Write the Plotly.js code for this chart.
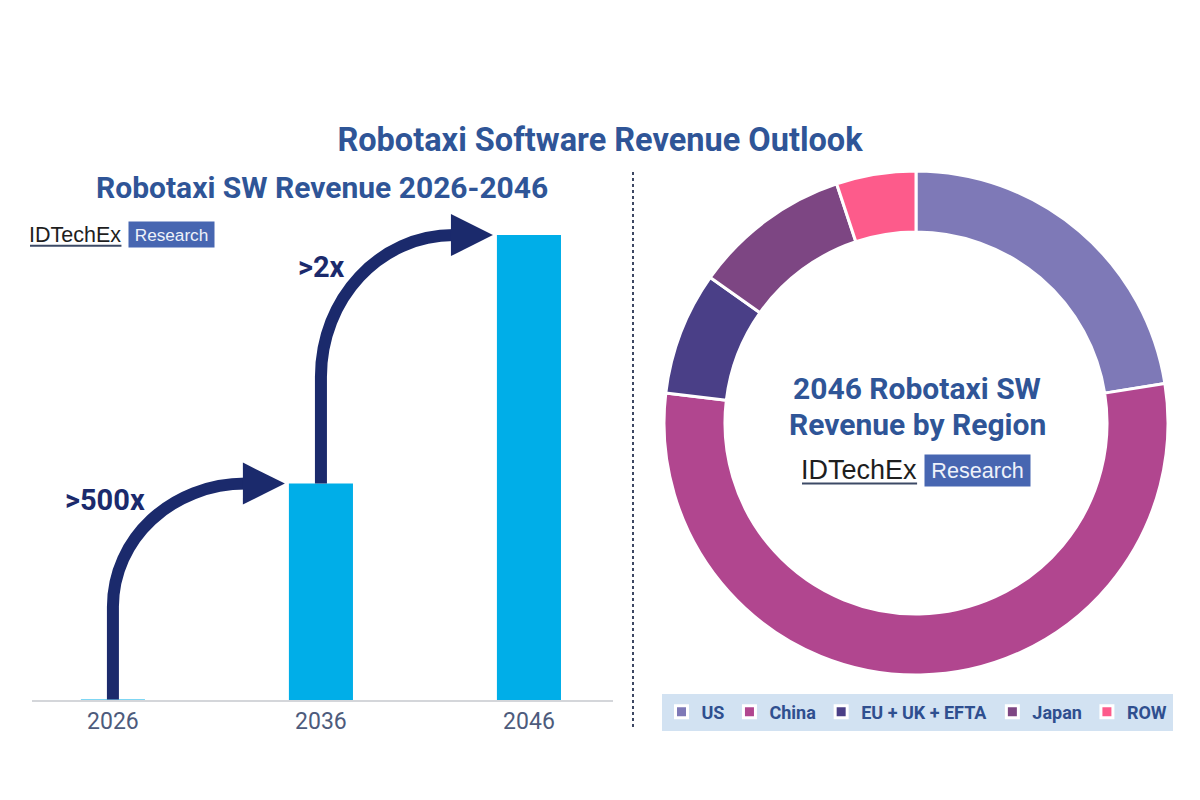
<!DOCTYPE html>
<html>
<head>
<meta charset="utf-8">
<script src="https://cdn.plot.ly/plotly-3.0.1.min.js"></script>
<style>
  html, body { margin: 0; padding: 0; background: #ffffff; }
  #chart { width: 1200px; height: 800px; }
</style>
</head>
<body>
<div id="chart"></div>
<script>
// Robotaxi software revenue (relative scale) by forecast year
const years = ['2026', '2036', '2046'];
const swRevenue = [0.05, 27, 58];
const growthLabels = ['>500x', '>2x'];

// 2046 revenue split by region (%)
const regions = ['US', 'China', 'EU + UK + EFTA', 'Japan', 'ROW'];
const regionShare = [22.5, 54.4, 7.9, 10.1, 5.1];
const regionColors = ['#7e79b7', '#b1468f', '#4a3f87', '#7d4683', '#fd5b8b'];

const W = 1200, H = 800;
const NAVY = '#1b2a6c';
const TITLE_BLUE = '#2f5597';

// bar panel geometry
const xDom = [32 / W, 613 / W];
const xRange = [-0.389, 2.404];
const yDom = [100 / H, 629 / H];
const yRange = [0, 66];
const barWidth = 0.308;

// axis helpers (category index / value -> pixel -> paper)
const pxPerCat = (xDom[1] - xDom[0]) * W / (xRange[1] - xRange[0]);
const xPix = i => xDom[0] * W + (i - xRange[0]) * pxPerCat;
const yPix = v => H - yDom[0] * H - (v - yRange[0]) / (yRange[1] - yRange[0]) * (yDom[1] - yDom[0]) * H;
const px = x => (x / W).toFixed(5);
const py = y => (1 - y / H).toFixed(5);
const pt = (x, y) => px(x) + ',' + py(y);

// curved growth arrows from one bar's top to the next bar's top-left corner
const shapes = [];
const annotations = [];
const halfBarPx = barWidth / 2 * pxPerCat;
const labelOffsets = [[-8, 16], [1, 32]];
for (let i = 0; i < swRevenue.length - 1; i++) {
  const sx = xPix(i), sy = yPix(swRevenue[i]);
  const ty = yPix(swRevenue[i + 1]);
  const tipX = xPix(i + 1) - halfBarPx - 4;
  const headLen = 42, headHalf = 21;
  const baseX = tipX - headLen;
  const ry = 0.57 * (sy - ty);
  const rx = baseX - sx;
  const k = 0.55;
  const body = 'M' + pt(sx, sy) +
    ' L' + pt(sx, ty + ry) +
    ' C' + pt(sx, ty + ry - k * ry) + ' ' + pt(baseX - k * rx, ty) + ' ' + pt(baseX + 3, ty);
  shapes.push({
    type: 'path', xref: 'paper', yref: 'paper', path: body,
    line: { color: NAVY, width: 12 }, fillcolor: 'rgba(0,0,0,0)'
  });
  shapes.push({
    type: 'path', xref: 'paper', yref: 'paper',
    path: 'M' + pt(baseX, ty - headHalf) + ' L' + pt(tipX, ty) + ' L' + pt(baseX, ty + headHalf) + ' Z',
    line: { width: 0 }, fillcolor: NAVY
  });
  annotations.push({
    xref: 'paper', yref: 'paper',
    x: (sx + labelOffsets[i][0]) / W, y: 1 - (ty + labelOffsets[i][1]) / H,
    xanchor: 'center', yanchor: 'middle', showarrow: false,
    text: growthLabels[i],
    font: { family: 'Roboto', size: 29, weight: 700, color: NAVY }
  });
}

// dotted divider between the panels
shapes.push({
  type: 'line', xref: 'paper', yref: 'paper',
  x0: 633 / W, x1: 633 / W, y0: 1 - 172 / H, y1: 1 - 730 / H,
  line: { color: '#3d4763', width: 2, dash: 'dot' }
});

// IDTechEx Research logo (two sizes)
function addLogo(x, yMid, size, resW, resH) {
  const wordW = size * 4.3;
  annotations.push({
    xref: 'paper', yref: 'paper', x: (x - 2) / W, y: 1 - yMid / H,
    xanchor: 'left', yanchor: 'middle', showarrow: false,
    text: 'IDTechEx',
    font: { family: 'Liberation Sans', size: size, color: '#1e1e1e' }
  });
  shapes.push({
    type: 'line', xref: 'paper', yref: 'paper',
    x0: (x + 1) / W, x1: (x + wordW) / W,
    y0: 1 - (yMid + size * 0.5) / H, y1: 1 - (yMid + size * 0.5) / H,
    line: { color: '#3c4a66', width: 2 }
  });
  const bx = x + wordW + 8;
  annotations.push({
    xref: 'paper', yref: 'paper', x: (bx + resW / 2) / W, y: 1 - yMid / H,
    xanchor: 'center', yanchor: 'middle', showarrow: false,
    width: resW, height: resH, bgcolor: '#4766b1', borderpad: 0,
    text: 'Research',
    font: { family: 'Liberation Sans', size: size * 0.8, color: '#eef2fa' }
  });
}
addLogo(29, 235, 21.5, 85, 25);
addLogo(801, 470, 27, 105, 31);

// panel titles
annotations.push({
  xref: 'paper', yref: 'paper', x: 322 / W, y: 1 - 187 / H,
  xanchor: 'center', yanchor: 'middle', showarrow: false,
  text: 'Robotaxi SW Revenue 2026-2046',
  font: { family: 'Roboto', size: 30, weight: 700, color: TITLE_BLUE }
});
['2046 Robotaxi SW', 'Revenue by Region'].forEach((line, j) => {
  annotations.push({
    xref: 'paper', yref: 'paper', x: 917 / W, y: 1 - (388 + 36 * j) / H,
    xanchor: 'center', yanchor: 'middle', showarrow: false,
    text: line,
    font: { family: 'Roboto', size: 30, weight: 700, color: TITLE_BLUE }
  });
});

const barTrace = {
  type: 'bar', x: years, y: swRevenue, width: barWidth,
  marker: { color: '#00aee8', line: { width: 0 } },
  showlegend: false, hoverinfo: 'x+y'
};

const pieTrace = {
  type: 'pie', labels: regions, values: regionShare,
  marker: { colors: regionColors, line: { color: '#ffffff', width: 3 } },
  hole: 0.758, sort: false, direction: 'clockwise', rotation: 0,
  textinfo: 'none', hoverinfo: 'label+percent',
  domain: { x: [664 / W, 1168 / W], y: [1 - 675 / H, 1 - 171 / H] }
};

const layout = {
  width: W, height: H,
  margin: { l: 0, r: 0, t: 0, b: 0 },
  paper_bgcolor: '#ffffff', plot_bgcolor: '#ffffff',
  title: {
    text: 'Robotaxi Software Revenue Outlook',
    x: 0.5, xanchor: 'center', xref: 'paper',
    y: 1 - 140 / H, yanchor: 'middle', yref: 'paper',
    font: { family: 'Roboto', size: 32.5, weight: 700, color: TITLE_BLUE }
  },
  xaxis: {
    domain: xDom, range: xRange, type: 'category',
    showline: true, linecolor: '#d4d6da', linewidth: 1.5,
    showgrid: false, zeroline: false, ticks: '',
    tickfont: { family: 'Roboto', size: 23, color: '#4d5b7c' }
  },
  yaxis: {
    domain: yDom, range: yRange, visible: false,
    showgrid: false, zeroline: false
  },
  showlegend: true,
  legend: {
    orientation: 'h', x: 917 / W, xanchor: 'center',
    y: 1 - 712 / H, yanchor: 'middle',
    bgcolor: '#d2e2f2', itemwidth: 30,
    font: { family: 'Roboto', size: 18, weight: 700, color: '#2f4f8f' }
  },
  shapes: shapes,
  annotations: annotations
};

Plotly.newPlot('chart', [barTrace, pieTrace], layout, { displayModeBar: false, staticPlot: true });
</script>
</body>
</html>
